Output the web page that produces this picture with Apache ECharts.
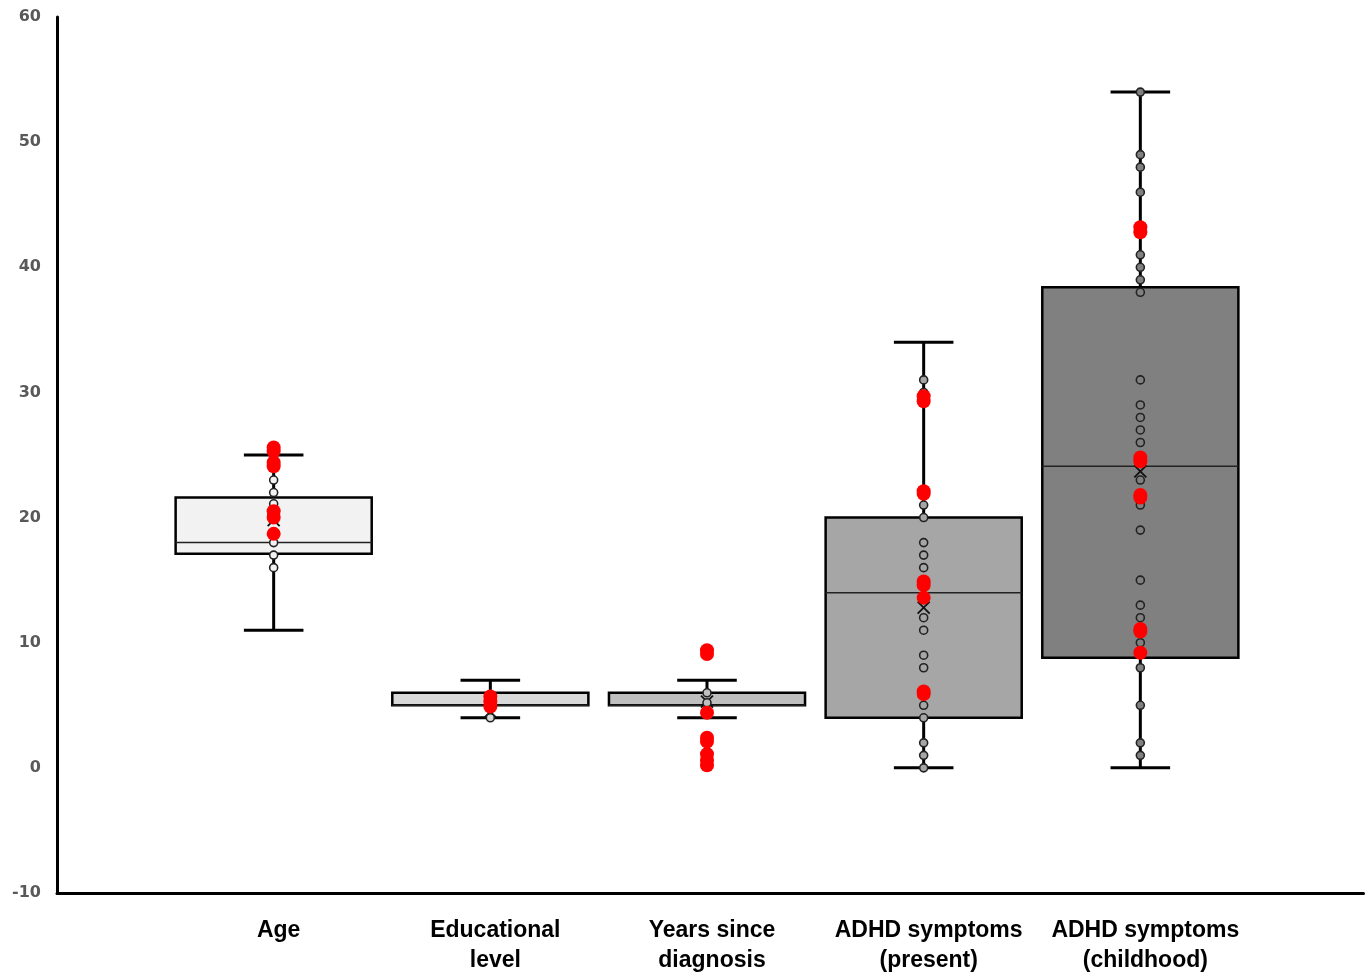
<!DOCTYPE html>
<html>
<head>
<meta charset="utf-8">
<script src="https://cdn.jsdelivr.net/npm/echarts@6/dist/echarts.min.js"></script>
<style>
html,body{margin:0;padding:0;background:#fff;}
#main{width:1365px;height:979px;}
</style>
</head>
<body>
<div id="main"></div>
<script>
// ---- data ----
const categories = ['Age', 'Educational\nlevel', 'Years since\ndiagnosis', 'ADHD symptoms\n(present)', 'ADHD symptoms\n(childhood)'];
// [min, Q1, median, Q3, max]
const boxStats = [
  [11, 17.1, 18, 21.6, 25],
  [4, 5, 5, 6, 7],
  [4, 5, 5, 6, 7],
  [0, 4, 14, 20, 34],
  [0, 8.8, 24.1, 38.4, 54]
];
const means = [19.8, 4.5, 5.3, 12.8, 23.7];
const hollowPoints = [
  [23, 22, 21.1, 18, 17, 16],
  [4],
  [6, 5.2],
  [31, 30, 21, 20, 18, 17, 16, 12, 11, 9, 8, 5, 4, 2, 1, 0],
  [54, 49, 48, 46, 41, 40, 39, 38, 31, 29, 28, 27, 26, 23, 21, 19, 15, 13, 12, 10, 8, 5, 2, 1]
];
const redPoints = [
  [25.6, 25.3, 24.4, 24.1, 20.5, 20.0, 18.7],
  [5.7, 5.3, 4.9],
  [9.4, 9.1, 4.4, 2.4, 2.1, 1.1, 0.6, 0.2],
  [29.7, 29.3, 22.1, 21.9, 14.9, 14.6, 13.6, 6.1, 5.9],
  [43.2, 42.8, 24.8, 24.5, 21.8, 21.6, 11.1, 10.9, 9.2]
];
const yTicks = { min: -10, max: 60, interval: 10 };

// ---- styles ----
const boxColors = ['#f2f2f2', '#d9d9d9', '#bfbfbf', '#a6a6a6', '#808080'];

const boxData = boxStats.map((s, i) => [i + 1, ...s, means[i]]);
const hollowData = [];
hollowPoints.forEach((arr, i) => arr.forEach(v => hollowData.push([i + 1, v])));
const redData = [];
redPoints.forEach((arr, i) => arr.forEach(v => redData.push([i + 1, v])));

function renderBox(params, api) {
  const x = api.value(0);
  const lo = api.value(1), q1 = api.value(2), med = api.value(3), q3 = api.value(4), hi = api.value(5), mean = api.value(6);
  const cx = api.coord([x, q3])[0];
  const band = api.size([1, 0])[0];
  const bw = band * 0.905, cw = band * 0.275;
  const y = v => api.coord([x, v])[1];
  const yLo = y(lo), yQ1 = y(q1), yMed = y(med), yQ3 = y(q3), yHi = y(hi), yMean = y(mean);
  const lineStyle = { stroke: '#000', lineWidth: 3 };
  const m = 6;
  return {
    type: 'group',
    children: [
      { type: 'line', shape: { x1: cx, y1: yHi, x2: cx, y2: yQ3 }, style: lineStyle },
      { type: 'line', shape: { x1: cx, y1: yQ1, x2: cx, y2: yLo }, style: lineStyle },
      { type: 'line', shape: { x1: cx - cw / 2, y1: yHi, x2: cx + cw / 2, y2: yHi }, style: lineStyle },
      { type: 'line', shape: { x1: cx - cw / 2, y1: yLo, x2: cx + cw / 2, y2: yLo }, style: lineStyle },
      { type: 'rect', shape: { x: cx - bw / 2, y: yQ3, width: bw, height: yQ1 - yQ3 },
        style: { fill: boxColors[x - 1], stroke: '#000', lineWidth: 2.5 } },
      { type: 'line', shape: { x1: cx - bw / 2, y1: yMed, x2: cx + bw / 2, y2: yMed }, style: { stroke: '#222', lineWidth: 1.5 } },
      { type: 'line', shape: { x1: cx - m, y1: yMean - m, x2: cx + m, y2: yMean + m }, style: { stroke: '#111', lineWidth: 1.8 } },
      { type: 'line', shape: { x1: cx - m, y1: yMean + m, x2: cx + m, y2: yMean - m }, style: { stroke: '#111', lineWidth: 1.8 } }
    ]
  };
}

const chart = echarts.init(document.getElementById('main'));
chart.setOption({
  animation: false,
  backgroundColor: '#fff',
  grid: { left: 57, right: 1, top: 17, bottom: 86, containLabel: false },
  xAxis: {
    type: 'value', min: 0, max: 6.03, interval: 1,
    splitLine: { show: false },
    axisTick: { show: false },
    axisLine: { show: true, onZero: false, lineStyle: { color: '#000', width: 3 } },
    axisLabel: {
      margin: 23,
      showMaxLabel: false,
      formatter: v => (v >= 1 && v <= 5) ? categories[v - 1] : '',
      fontFamily: 'Liberation Sans, Arial, sans-serif',
      fontWeight: 'bold', fontSize: 23, lineHeight: 30, color: '#000',
      padding: [0, 0, 0, 10]
    }
  },
  yAxis: {
    type: 'value', min: yTicks.min, max: yTicks.max, interval: yTicks.interval,
    splitLine: { show: false },
    axisTick: { show: false },
    axisLine: { show: true, lineStyle: { color: '#000', width: 3 } },
    axisLabel: {
      margin: 16,
      fontFamily: 'DejaVu Sans, Verdana, sans-serif',
      fontWeight: 'bold', fontSize: 16, color: '#595959'
    }
  },
  series: [
    {
      type: 'custom', renderItem: renderBox, data: boxData,
      encode: { x: 0, y: [1, 2, 3, 4, 5] }, z: 2
    },
    {
      type: 'scatter', data: hollowData, symbol: 'circle', symbolSize: 8, z: 3,
      itemStyle: { color: p => boxColors[p.value[0] - 1], borderColor: '#222', borderWidth: 1.6, opacity: 1 }
    },
    {
      type: 'scatter', data: redData, symbol: 'circle', symbolSize: 14, z: 4,
      itemStyle: { color: '#ff0000', opacity: 1 }
    }
  ]
});
</script>
</body>
</html>
